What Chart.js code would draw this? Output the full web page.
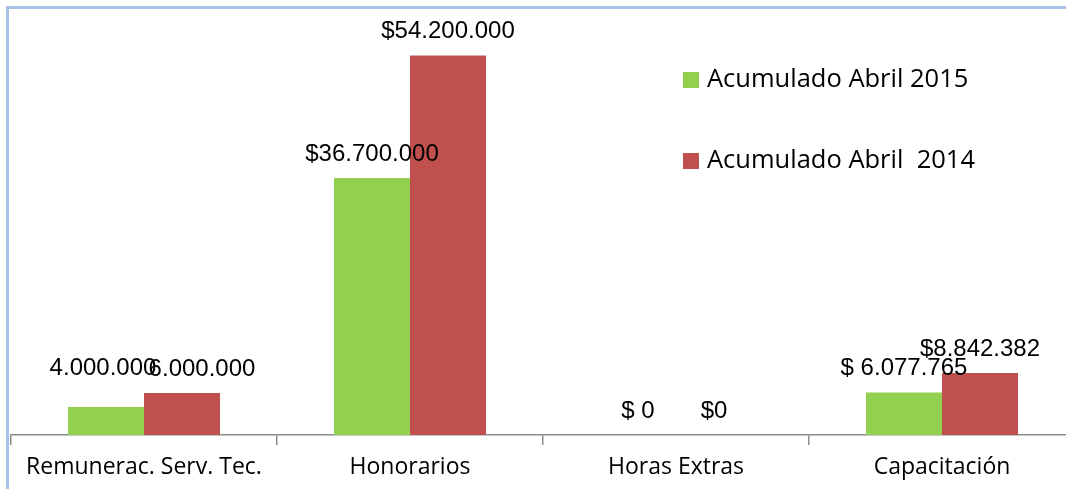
<!DOCTYPE html>
<html>
<head>
<meta charset="utf-8">
<script src="https://cdn.jsdelivr.net/npm/chart.js@4.4.1/dist/chart.umd.min.js"></script>
<style>
  html, body { margin: 0; padding: 0; background: #fff; overflow: hidden; }
  #marco {
    position: absolute; left: 6px; top: 6px; width: 1100px; height: 480px;
    border-left: 3px solid #a9c0e8; border-top: 3px solid #a9c0e8; border-bottom: 1px solid #dfe7f5;
  }
  #caja { position: absolute; left: 0; top: 0; width: 1080px; height: 489px; }
</style>
</head>
<body>
<div id="marco"></div>
<div id="caja"><canvas id="grafico"></canvas></div>
<script>
// Datos del gráfico
const categorias = ['Remunerac. Serv. Tec.', 'Honorarios', 'Horas Extras', 'Capacitación'];
const serie2015 = [4000000, 36700000, 0, 6077765];
const serie2014 = [6000000, 54200000, 0, 8842382];
const etiquetas2015 = ['4.000.000', '$36.700.000', '$ 0', '$ 6.077.765'];
const etiquetas2014 = ['6.000.000', '$54.200.000', '$0', '$8.842.382'];
const nombresSeries = ['Acumulado Abril 2015', 'Acumulado Abril  2014'];

// Ajustes manuales de posición de algunas etiquetas (como en el original)
const ajusteEtiquetas = [
  [[-3, -15], [0, 0], [0, 0], [0, 0]],
  [[20, 0], [0, 0], [0, 0], [0, 0]]
];

const VERDE = '#92d050';
const ROJO = '#c0504d';

// Etiquetas de valor encima de cada barra
const pluginEtiquetas = {
  id: 'etiquetas',
  afterDatasetsDraw(chart) {
    const ctx = chart.ctx;
    const textos = [etiquetas2015, etiquetas2014];
    ctx.save();
    ctx.font = '24px "Liberation Sans", Arial, sans-serif';
    ctx.fillStyle = '#000';
    ctx.textAlign = 'center';
    ctx.textBaseline = 'middle';
    chart.data.datasets.forEach((ds, i) => {
      chart.getDatasetMeta(i).data.forEach((barra, j) => {
        const [dx, dy] = ajusteEtiquetas[i][j];
        ctx.fillText(textos[i][j], barra.x + dx, barra.y - 24 + dy);
      });
    });
    ctx.restore();
  }
};

// Leyenda dibujada dentro del área del gráfico
const pluginLeyenda = {
  id: 'leyenda',
  afterDraw(chart) {
    const ctx = chart.ctx;
    const colores = [VERDE, ROJO];
    ctx.save();
    ctx.font = '25.5px "Open Sans", sans-serif';
    ctx.textBaseline = 'middle';
    nombresSeries.forEach((nombre, i) => {
      const y = 80 + i * 81;
      ctx.fillStyle = colores[i];
      ctx.fillRect(683, y - 8, 16, 16);
      ctx.fillStyle = '#000';
      ctx.fillText(nombre, 707, y);
    });
    ctx.restore();
  }
};

new Chart(document.getElementById('grafico'), {
  type: 'bar',
  data: {
    labels: categorias,
    datasets: [
      { label: nombresSeries[0], data: serie2015, backgroundColor: VERDE, borderWidth: 0 },
      { label: nombresSeries[1], data: serie2014, backgroundColor: ROJO, borderWidth: 0 }
    ]
  },
  options: {
    responsive: true,
    maintainAspectRatio: false,
    animation: false,
    categoryPercentage: 0.5714,
    barPercentage: 1.0,
    layout: { padding: { left: 11, right: 5, top: 8, bottom: 9 } },
    plugins: {
      legend: { display: false },
      tooltip: { enabled: false }
    },
    scales: {
      x: {
        offset: true,
        grid: { display: true, drawOnChartArea: false, tickLength: 10, color: '#8c8c8c', lineWidth: 1.5, offset: true },
        border: { display: true, color: '#8c8c8c', width: 1.5 },
        ticks: { color: '#000', padding: 9, font: { family: '"Open Sans", sans-serif', size: 23 }, maxRotation: 0, autoSkip: false },
        afterFit(scale) { scale.height = 45; }
      },
      y: {
        display: false,
        min: 0,
        max: 61000000
      }
    }
  },
  plugins: [pluginEtiquetas, pluginLeyenda]
});
</script>
</body>
</html>
